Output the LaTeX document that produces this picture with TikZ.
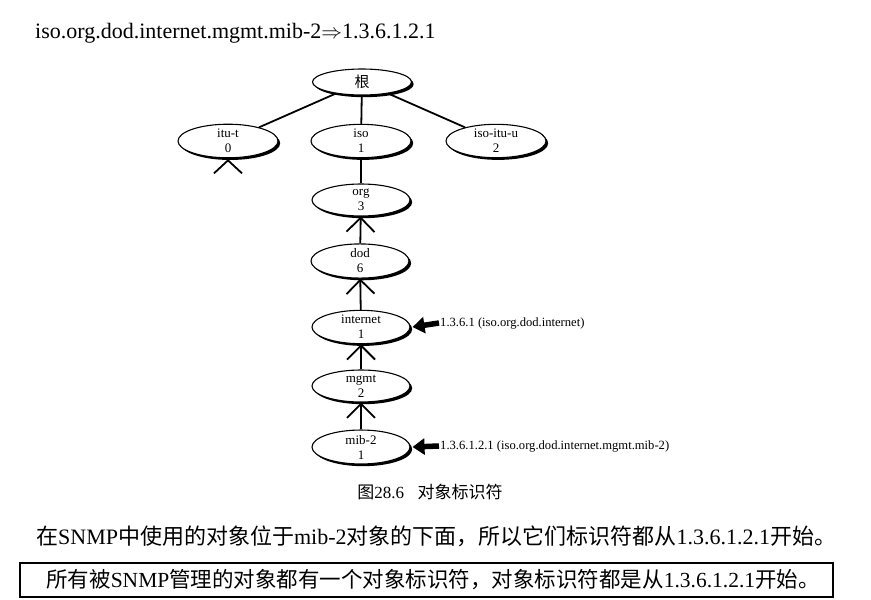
\documentclass[tikz,border=0pt]{standalone}
\usepackage{fontspec}
\setmainfont{Liberation Serif}
\newfontfamily\cjk{Noto Sans CJK SC}
\usetikzlibrary{shapes.geometric,shadows,arrows.meta}
\begin{document}
\begin{tikzpicture}[x=1pt,y=-1pt,
  oid/.style={ellipse,draw,line width=1.1pt,fill=white,inner sep=0pt,
    minimum width=98pt,minimum height=32pt,align=center,
    font=\fontsize{13}{15}\selectfont,
    drop shadow={shadow xshift=2.2pt,shadow yshift=-2.2pt,fill=black,opacity=1}},
  edge/.style={line width=1.8pt},
  chev/.style={line width=1.8pt,-{Straight Barb[length=14pt,width=28pt,line width=1.8pt]}},
  bigarrow/.style={line width=5.5pt,-{Triangle[length=12pt,width=16pt]}},
  lab/.style={anchor=west,inner sep=1pt,font=\fontsize{12.6}{15}\selectfont}]
\useasboundingbox (0,0) rectangle (871,600);
\fill[white] (0,0) rectangle (871,600);

\node[anchor=west,inner sep=0pt,font=\fontsize{22}{26}\selectfont] (top) at (35,33)
  {iso.org.dod.internet.mgmt.mib-2$\Rightarrow$1.3.6.1.2.1};

\node[oid,minimum width=99pt,minimum height=26pt,font=\cjk\fontsize{15}{17}\selectfont] (root) at (362,82) {根};
\node[oid,minimum width=100pt,minimum height=33pt] (itut) at (228,141) {itu-t\\0};
\node[oid,minimum width=100pt,minimum height=33pt] (iso) at (361,141) {iso\\1};
\node[oid,minimum width=100pt,minimum height=33pt] (isoitu) at (496,141) {iso-itu-u\\2};
\node[oid] (org) at (361,200) {org\\3};
\node[oid] (dod) at (360,261) {dod\\6};
\node[oid] (internet) at (361,327) {internet\\1};
\node[oid] (mgmt) at (361,386) {mgmt\\2};
\node[oid] (mib) at (361,447) {mib-2\\1};

\draw[edge] (root) -- (itut);
\draw[edge] (root) -- (iso);
\draw[edge] (root) -- (isoitu);
\draw[edge] (iso) -- (org);
\draw[chev] (dod) -- (org);
\draw[chev] (internet) -- (dod);
\draw[chev] (mgmt) -- (internet);
\draw[chev] (mib) -- (mgmt);
\draw[line width=1.8pt] ([xshift=-14pt,yshift=-15pt]itut.south) -- ([yshift=-2pt]itut.south) -- ([xshift=14pt,yshift=-15pt]itut.south);

\node[lab] (l1) at (439,323) {1.3.6.1 (iso.org.dod.internet)};
\node[lab] (l2) at (439,446) {1.3.6.1.2.1 (iso.org.dod.internet.mgmt.mib-2)};
\draw[bigarrow] (l1.west) -- ([xshift=2pt]internet.east);
\draw[bigarrow] (l2.west) -- ([xshift=2pt]mib.east);

\node[inner sep=0pt,font=\fontsize{17}{20}\selectfont] (cap) at (430,492)
  {{\cjk 图}28.6\hspace{0.8em}{\cjk 对象标识符}};

\node[anchor=west,inner sep=0pt,font=\fontsize{22}{26}\selectfont] (para) at (36,536)
  {{\cjk 在}SNMP{\cjk 中使用的对象位于}mib-2{\cjk 对象的下面，所以它们标识符都从}1.3.6.1.2.1{\cjk 开始。}};

\draw[line width=1.3pt] (20,563) rectangle (833,597);
\node[inner sep=0pt,font=\fontsize{21.5}{24}\selectfont] (note) at (433,580)
  {{\cjk 所有被}SNMP{\cjk 管理的对象都有一个对象标识符，对象标识符都是从}1.3.6.1.2.1{\cjk 开始。}};
\end{tikzpicture}
\end{document}
